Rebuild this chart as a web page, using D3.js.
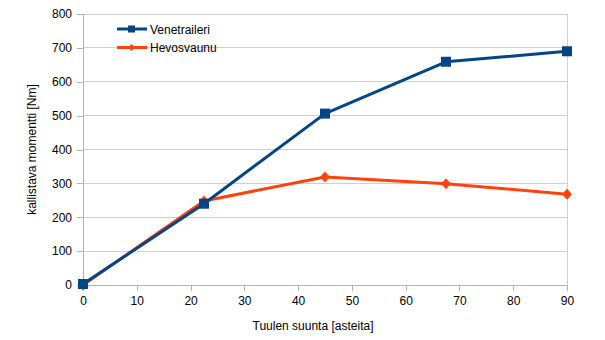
<!DOCTYPE html>
<html><head><meta charset="utf-8">
<script src="https://cdn.jsdelivr.net/npm/d3@7"></script>
<style>body{margin:0;background:#fff}svg{display:block;font-family:"Liberation Sans",Arial,sans-serif}</style>
</head><body>
<svg id="c" width="605" height="340"></svg>
<script>
const angles = [0, 22.5, 45, 67.5, 90];
const venetraileri = [3, 240, 506, 659, 690];
const hevosvaunu = [0, 248, 319, 299, 268];
const xTicks = [0,10,20,30,40,50,60,70,80,90];
const yTicks = [0,100,200,300,400,500,600,700,800];
const seriesNames = ["Venetraileri", "Hevosvaunu"];
const colors = ["#004586", "#ff420e"];

const svg = d3.select("#c");
const m = {l:83, r:567, t:14, b:285};
const x = d3.scaleLinear().domain([0,90]).range([m.l, m.r]);
const y = d3.scaleLinear().domain([0,800]).range([m.b, m.t]);

svg.append("g").selectAll("line").data(yTicks.filter(d=>d>0)).join("line")
  .attr("x1", m.l).attr("x2", m.r).attr("y1", d=>y(d)).attr("y2", d=>y(d))
  .attr("stroke", "#d0d0d0").attr("stroke-width", 1).attr("shape-rendering","crispEdges");
svg.append("line").attr("x1", m.r).attr("x2", m.r).attr("y1", m.t).attr("y2", m.b)
  .attr("stroke", "#d0d0d0").attr("shape-rendering","crispEdges");

const xAxis = svg.append("g").attr("transform", `translate(0,${m.b})`)
  .call(d3.axisBottom(x).tickValues(xTicks).tickSize(6).tickPadding(5).tickFormat(d3.format("d")));
const yAxis = svg.append("g").attr("transform", `translate(${m.l},0)`)
  .call(d3.axisLeft(y).tickValues(yTicks).tickSize(6).tickPadding(5).tickFormat(d3.format("d")));
[xAxis, yAxis].forEach(a => {
  a.selectAll("path,line").attr("stroke", "#b3b3b3").attr("shape-rendering","crispEdges");
  a.select(".domain").attr("d", a === xAxis ? `M${m.l},0H${m.r}` : `M0,${m.t}V${m.b}`);
  a.selectAll("text").attr("fill", "#000").style("font-size", "12px").style("font-family", '"Liberation Sans",Arial,sans-serif');
});

svg.append("text").attr("x", 313).attr("y", 330).attr("text-anchor", "middle")
  .style("font-size", "12px").text("Tuulen suunta [asteita]");
svg.append("text").attr("transform", `translate(36,${(m.t+m.b)/2}) rotate(-90)`).attr("text-anchor", "middle")
  .style("font-size", "12px").text("kallistava momentti [Nm]");

const line = d3.line().x((d,i)=>x(angles[i])).y(d=>y(d));
const square = s => `M${-s},${-s}H${s}V${s}H${-s}Z`;
const diamond = (w,h) => `M0,${-h}L${w},0L0,${h}L${-w},0Z`;

[[hevosvaunu,1,diamond(5,5.5)],[venetraileri,0,square(5)]].forEach(([vals,ci,sym]) => {
  svg.append("path").datum(vals).attr("d", line).attr("fill","none")
    .attr("stroke", colors[ci]).attr("stroke-width", 3).attr("stroke-linejoin","round");
  svg.append("g").selectAll("path").data(vals).join("path")
    .attr("d", sym).attr("transform", (d,i)=>`translate(${x(angles[i])},${y(d)})`)
    .attr("fill", colors[ci]);
});

const leg = svg.append("g");
[[0,square(3.5)],[1,diamond(3.5,3.5)]].forEach(([i,sym]) => {
  const ly = 29 + i*18.5;
  leg.append("line").attr("x1",117).attr("x2",147).attr("y1",ly).attr("y2",ly)
    .attr("stroke", colors[i]).attr("stroke-width",3);
  leg.append("path").attr("d", sym).attr("transform",`translate(131.5,${ly})`).attr("fill", colors[i]);
  leg.append("text").attr("x",150).attr("y",ly+4.5).style("font-size","12px").text(seriesNames[i]);
});
</script>
</body></html>
